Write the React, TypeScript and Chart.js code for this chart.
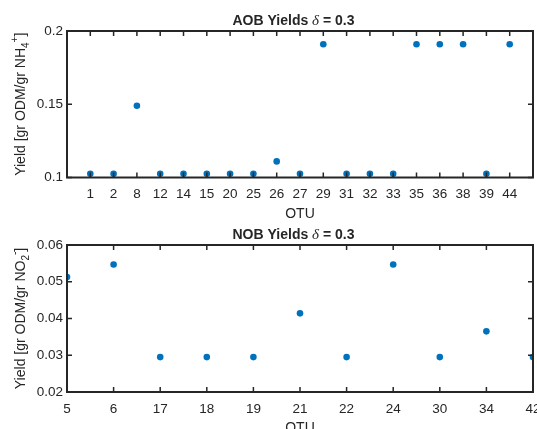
import React, { useEffect, useRef } from 'react';
import { Chart, registerables } from 'chart.js';

Chart.register(...registerables);

// ---- data ----
const AOB_OTU = ['1', '2', '8', '12', '14', '15', '20', '25', '26', '27', '29', '31', '32', '33', '35', '36', '38', '39', '44'];
const AOB_YIELD = [0.1025, 0.1025, 0.149, 0.1025, 0.1025, 0.1025, 0.1025, 0.1025, 0.111, 0.1025, 0.191, 0.1025, 0.1025, 0.1025, 0.191, 0.191, 0.191, 0.1025, 0.191];
const AOB_Y_TICKS = [0.1, 0.15, 0.2];

const NOB_OTU = ['5', '6', '17', '18', '19', '21', '22', '24', '30', '34', '42'];
const NOB_YIELD = [0.0513, 0.0547, 0.0295, 0.0295, 0.0295, 0.0414, 0.0295, 0.0547, 0.0295, 0.0365, 0.0295];
const NOB_Y_TICKS = [0.02, 0.03, 0.04, 0.05, 0.06];

// ---- styles ----
const TEXT = '#262626';
const AXIS = '#262626';
const DOT = '#0072BD';
const SANS = '"Liberation Sans", Arial, sans-serif';
const SERIF = '"Liberation Serif", "Times New Roman", serif';

type Seg = { t: string; k?: 'sub' | 'sup' | 'delta' };

function drawRich(ctx: CanvasRenderingContext2D, segs: Seg[], cx: number, cy: number, size: number, weight: string, rot: boolean) {
  ctx.save();
  ctx.translate(cx, cy);
  if (rot) ctx.rotate(-Math.PI / 2);
  const fontFor = (s: Seg) =>
    s.k === 'delta'
      ? `italic ${size + 1}px ${SERIF}`
      : s.k
      ? `${weight} ${Math.round(size * 0.72)}px ${SANS}`
      : `${weight} ${size}px ${SANS}`;
  let total = 0;
  const widths = segs.map((s) => {
    ctx.font = fontFor(s);
    const w = ctx.measureText(s.t).width;
    total += w;
    return w;
  });
  let x = -total / 2;
  const base = size * 0.36;
  ctx.fillStyle = TEXT;
  ctx.textBaseline = 'alphabetic';
  ctx.textAlign = 'left';
  segs.forEach((s, i) => {
    ctx.font = fontFor(s);
    const dy = s.k === 'sub' ? size * 0.3 : s.k === 'sup' ? -size * 0.45 : 0;
    ctx.fillText(s.t, x, base + dy);
    x += widths[i];
  });
  ctx.restore();
}

type PanelProps = {
  otus: string[];
  yields: number[];
  yTicks: number[];
  xMin: number;
  xMax: number;
  title: Seg[];
  yLabel: Seg[];
  top: number;
  height: number;
  padTop: number;
  xAxisH: number;
};

function Panel(p: PanelProps) {
  const ref = useRef<HTMLCanvasElement | null>(null);
  useEffect(() => {
    if (!ref.current) return;
    const deco = {
      id: 'deco',
      afterDatasetsDraw(chart: any) {
        const { ctx, chartArea: a, scales } = chart;
        const xs = scales.x;
        const ys = scales.y;
        ctx.save();
        ctx.strokeStyle = AXIS;
        ctx.lineWidth = 1.5;
        ctx.beginPath();
        p.otus.forEach((_, i) => {
          const px = xs.getPixelForValue(i + 1);
          ctx.moveTo(px, a.bottom);
          ctx.lineTo(px, a.bottom - 5);
          ctx.moveTo(px, a.top);
          ctx.lineTo(px, a.top + 5);
        });
        p.yTicks.forEach((v) => {
          const py = ys.getPixelForValue(v);
          ctx.moveTo(a.left, py);
          ctx.lineTo(a.left + 5, py);
          ctx.moveTo(a.right, py);
          ctx.lineTo(a.right - 5, py);
        });
        ctx.stroke();
        ctx.lineWidth = 2;
        ctx.strokeRect(a.left, a.top, a.right - a.left, a.bottom - a.top);
        const cx = (a.left + a.right) / 2;
        drawRich(ctx, p.title, cx - 6.5, a.top - 11.5, 14, 'bold', false);
        drawRich(ctx, [{ t: 'OTU' }], cx, a.bottom + 35, 14, 'normal', false);
        drawRich(ctx, p.yLabel, 19.5, (a.top + a.bottom) / 2, 14, 'normal', true);
        ctx.restore();
      },
    };
    const chart = new Chart(ref.current, {
      type: 'scatter',
      data: {
        datasets: [
          {
            data: p.otus.map((_, i) => ({ x: i + 1, y: p.yields[i] })),
            pointRadius: 3.3,
            pointBackgroundColor: DOT,
            pointBorderWidth: 0,
            showLine: false,
            clip: 0,
          } as any,
        ],
      },
      options: {
        responsive: false,
        animation: false,
        events: [],
        layout: { padding: { top: p.padTop, right: 4, left: 0, bottom: 0 } },
        plugins: { legend: { display: false }, tooltip: { enabled: false } },
        scales: {
          x: {
            type: 'linear',
            min: p.xMin,
            max: p.xMax,
            grid: { display: false, drawTicks: false },
            border: { display: false },
            ticks: {
              autoSkip: false,
              maxRotation: 0,
              minRotation: 0,
              padding: 9,
              color: TEXT,
              font: { family: SANS, size: 13.5 },
              callback: (v: any) => p.otus[Math.round(Number(v)) - 1] ?? '',
            },
            afterBuildTicks: (s: any) => {
              s.ticks = p.otus.map((_, i) => ({ value: i + 1 }));
            },
            afterFit: (s: any) => {
              s.height = p.xAxisH;
              s.paddingLeft = 0;
              s.paddingRight = 0;
            },
          },
          y: {
            type: 'linear',
            min: p.yTicks[0],
            max: p.yTicks[p.yTicks.length - 1],
            grid: { display: false, drawTicks: false },
            border: { display: false },
            ticks: {
              padding: 4,
              color: TEXT,
              font: { family: SANS, size: 13.5 },
              callback: (v: any) => String(v),
            },
            afterBuildTicks: (s: any) => {
              s.ticks = p.yTicks.map((v) => ({ value: v }));
            },
            afterFit: (s: any) => {
              s.width = 67;
              s.paddingTop = 0;
              s.paddingBottom = 0;
            },
          },
        },
      } as any,
      plugins: [deco],
    });
    return () => chart.destroy();
  }, []);
  return (
    <canvas
      ref={ref}
      width={537}
      height={p.height}
      style={{ position: 'absolute', left: 0, top: p.top, width: 537, height: p.height, display: 'block' }}
    />
  );
}

export default function App() {
  return (
    <div style={{ position: 'fixed', left: 0, top: 0, width: 537, height: 429, overflow: 'hidden', background: '#fff' }}>
      <Panel
        otus={AOB_OTU}
        yields={AOB_YIELD}
        yTicks={AOB_Y_TICKS}
        xMin={0}
        xMax={AOB_OTU.length + 1}
        title={[{ t: 'AOB Yields ' }, { t: 'δ', k: 'delta' }, { t: ' = 0.3' }]}
        yLabel={[{ t: 'Yield [gr ODM/gr NH' }, { t: '4', k: 'sub' }, { t: '+', k: 'sup' }, { t: ']' }]}
        top={0}
        height={222}
        padTop={31}
        xAxisH={44.5}
      />
      <Panel
        otus={NOB_OTU}
        yields={NOB_YIELD}
        yTicks={NOB_Y_TICKS}
        xMin={1}
        xMax={NOB_OTU.length}
        title={[{ t: 'NOB Yields ' }, { t: 'δ', k: 'delta' }, { t: ' = 0.3' }]}
        yLabel={[{ t: 'Yield [gr ODM/gr NO' }, { t: '2', k: 'sub' }, { t: '-', k: 'sup' }, { t: ']' }]}
        top={222}
        height={214}
        padTop={23}
        xAxisH={44}
      />
    </div>
  );
}
